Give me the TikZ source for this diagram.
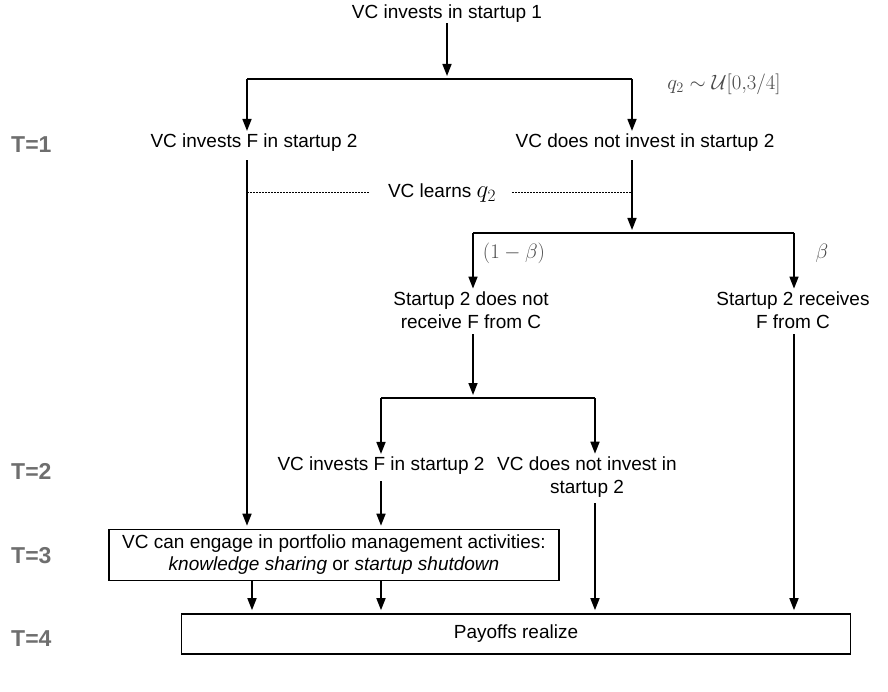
\documentclass[tikz,border=0pt]{standalone}
\usepackage{fontspec}
\setmainfont{Liberation Sans}
\usetikzlibrary{arrows.meta}
\definecolor{tgray}{HTML}{6E6E6E}
\definecolor{mgray}{HTML}{4A4A4A}
\begin{document}
\begin{tikzpicture}[x=1pt,y=-1pt,
  txt/.style={font=\fontsize{19}{22.5}\selectfont, inner sep=0pt, align=center},
  tlab/.style={font=\fontsize{23}{26}\selectfont\bfseries, text=tgray, anchor=west, inner sep=0pt},
  mlab/.style={font=\fontsize{19.5}{22}\selectfont, text=mgray, inner sep=0pt},
  ln/.style={line width=1.6pt},
  arr/.style={line width=1.6pt, -{Triangle[width=9pt,length=12pt]}, shorten >=3pt},
  dotl/.style={line width=0.9pt, dash pattern=on 1.5pt off 1.5pt},
  bx/.style={draw, line width=1.6pt, inner sep=0pt, align=center, font=\fontsize{19}{22}\selectfont}]
\useasboundingbox (0,0) rectangle (888,692);

% time labels
\node[tlab] (t1) at (11,145) {T=1};
\node[tlab] (t2) at (11,471) {T=2};
\node[tlab] (t3) at (11,556) {T=3};
\node[tlab] (t4) at (11,639) {T=4};

% top
\node[txt] (top) at (447,14) {VC invests in startup 1};
\coordinate (b1) at (447,79);
\coordinate (b1l) at (247,79);
\coordinate (b1r) at (632,79);
\draw[arr] (top.south) -- (b1);
\draw[ln] (b1l) -- (b1r);
\node[mlab] (q) at (724,84) {$q_2\sim\mathcal{U}[0{,}3/4]$};

% T=1 choices
\node[txt] (inv1) at (254,143) {VC invests F in startup 2};
\node[txt] (ninv1) at (645,143) {VC does not invest in startup 2};
\draw[arr] (b1l) -- (b1l |- inv1.north);
\draw[arr] (b1r) -- (b1r |- ninv1.north);

% learns q2
\node[txt] (learn) at (442,193) {VC learns {\fontsize{23}{23}\selectfont$q_2$}};
\coordinate (dl1) at (247,192);
\coordinate (dr2) at (632,192);
\draw[dotl] (dl1) -- ([xshift=-18pt]learn.west |- dl1);
\draw[dotl] ([xshift=16pt]learn.east |- dr2) -- (dr2);

% branch beta
\coordinate (b2) at (632,233);
\coordinate (b2l) at (473,233);
\coordinate (b2r) at (794,233);
\draw[arr] ([yshift=-8pt]b1r |- ninv1.south) -- (b2);
\draw[ln] (b2l) -- (b2r);
\node[mlab] (omb) at (514,253) {$(1-\beta)$};
\node[mlab] (bet) at (822,253) {$\beta$};

\node[txt] (nrec) at (471,310) {Startup 2 does not\\receive F from C};
\node[txt] (rec) at (793,310) {Startup 2 receives\\F from C};
\draw[arr] (b2l) -- (b2l |- nrec.north);
\draw[arr] (b2r) -- (b2r |- rec.north);

% branch T=2
\coordinate (b3) at (473,398);
\coordinate (b3l) at (381,398);
\coordinate (b3r) at (595,398);
\draw[arr] ([yshift=-6pt]b3 |- nrec.south) -- (b3);
\draw[ln] (b3l) -- (b3r);
\node[txt] (inv2) at (381,466) {VC invests F in startup 2};
\node[txt] (ninv2) at (587,477) {VC does not invest in\\startup 2};
\draw[arr] (b3l) -- (b3l |- inv2.north);
\draw[arr] (b3r) -- (b3r |- ninv2.north);

% boxes
\node[bx, minimum width=450pt, minimum height=51pt] (pm) at (334,555)
  {VC can engage in portfolio management activities:\\\textit{knowledge sharing} or \textit{startup shutdown}};
\node[bx, minimum width=669pt, minimum height=40pt] (pay) at (516,634) {Payoffs realize};

\coordinate (c1) at (252,580);
\draw[arr] ([yshift=-8pt]dl1 |- inv1.south) -- (dl1 |- pm.north);
\draw[arr] ([yshift=-6pt]b3l |- inv2.south) -- (b3l |- pm.north);
\draw[arr] ([yshift=-6pt]b3r |- ninv2.south) -- (b3r |- pay.north);
\draw[arr] ([yshift=-6pt]b2r |- rec.south) -- (b2r |- pay.north);
\draw[arr] (c1 |- pm.south) -- (c1 |- pay.north);
\draw[arr] (b3l |- pm.south) -- (b3l |- pay.north);
\end{tikzpicture}
\end{document}
